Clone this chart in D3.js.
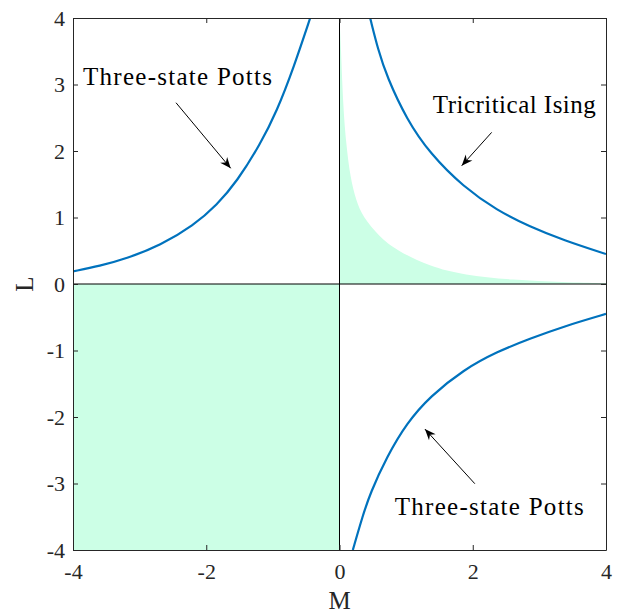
<!DOCTYPE html>
<html>
<head>
<meta charset="utf-8">
<script src="https://cdn.jsdelivr.net/npm/d3@7"></script>
<style>
    body { margin: 0; background: #fff; }
    text { font-family: "Liberation Serif", "DejaVu Serif", serif; fill: #262626; }
</style>
</head>
<body>
<div id="container"></div>
<script>

// Data.

const xTicks = [-4, -2, 0, 2, 4];
const yTicks = [-4, -3, -2, -1, 0, 1, 2, 3, 4];

// upper-left branch (Three-state Potts)
const pottsUpperM = [-4.0, -3.6, -3.19, -2.69, -2.19, -1.84, -1.54, -1.19, -0.94, -0.69, -0.44];
const pottsUpperL = [0.19, 0.27, 0.385, 0.58, 0.88, 1.19, 1.54, 2.1, 2.6, 3.25, 4.0];

// upper-right branch (Tricritical Ising)
const isingM = [0.46, 0.58, 0.71, 1.01, 1.36, 1.86, 2.36, 2.86, 3.36, 4.0];
const isingL = [4.0, 3.52, 3.12, 2.47, 1.96, 1.46, 1.11, 0.86, 0.66, 0.45];

// lower-right branch (Three-state Potts)
const pottsLowerM = [0.2, 0.35, 0.46, 0.71, 1.01, 1.36, 1.86, 2.36, 2.86, 3.36, 4.0];
const pottsLowerL = [-4.0, -3.48, -3.15, -2.6, -2.09, -1.69, -1.29, -1.02, -0.82, -0.64, -0.45];

// shaded region above L = 0 for M > 0
const shadeM = [0.0, 0.02, 0.057, 0.1, 0.16, 0.25, 0.35, 0.6, 0.85, 1.36, 1.86, 2.61, 3.36, 4.0];
const shadeL = [4.0, 3.6, 2.62, 2.12, 1.61, 1.25, 1.01, 0.71, 0.51, 0.26, 0.135, 0.06, 0.025, 0.01];

// shaded quadrant M < 0, L < 0
const quadM = [-4, 0];
const quadL = [-4, 0];

const labels = ['Three-state Potts', 'Tricritical Ising', 'Three-state Potts'];
const labelM = [-3.85, 1.40, 0.83];
const labelL = [2.99, 2.57, -3.47];
const arrowFrom = [[-2.454, 2.726], [2.284, 2.28], [2.031, -3.003]];
const arrowTo = [[-1.633, 1.74], [1.834, 1.779], [1.282, -2.182]];


// Canvas.

const width = 620;
const height = 614;
const padL = 73, padR = 606, padT = 18, padB = 550;

const svg = d3.select('#container')
    .append('svg')
    .attr('width', width)
    .attr('height', height);

const x = d3.scaleLinear().domain([-4, 4]).range([padL, padR]);
const y = d3.scaleLinear().domain([-4, 4]).range([padB, padT]);

const defs = svg.append('defs');

defs.append('clipPath')
    .attr('id', 'plot-clip')
    .append('rect')
    .attr('x', padL)
    .attr('y', padT)
    .attr('width', padR - padL)
    .attr('height', padB - padT);

defs.append('marker')
    .attr('id', 'head')
    .attr('viewBox', '-12 -6 14 12')
    .attr('refX', 0)
    .attr('refY', 0)
    .attr('markerWidth', 14)
    .attr('markerHeight', 12)
    .attr('markerUnits', 'userSpaceOnUse')
    .attr('orient', 'auto')
    .append('path')
    .attr('d', 'M0,0 L-11,-4.5 L-7.5,0 L-11,4.5 Z')
    .attr('fill', '#000');

const plot = svg.append('g').attr('clip-path', 'url(#plot-clip)');

// Shading.

plot.append('rect')
    .attr('x', x(quadM[0]))
    .attr('y', y(quadL[1]))
    .attr('width', x(quadM[1]) - x(quadM[0]))
    .attr('height', y(quadL[0]) - y(quadL[1]))
    .attr('fill', '#ccffe6');

const shade = shadeM.map((m, i) => [m, shadeL[i]]);
plot.append('path')
    .datum(shade)
    .attr('d', d3.area()
        .x(d => x(d[0]))
        .y0(y(0))
        .y1(d => y(d[1]))
        .curve(d3.curveBasis))
    .attr('fill', '#ccffe6');

// Zero lines.

plot.append('line')
    .attr('x1', x(-4)).attr('x2', x(4))
    .attr('y1', y(0)).attr('y2', y(0))
    .attr('stroke', '#000')
    .attr('stroke-width', 1);

plot.append('line')
    .attr('x1', x(0)).attr('x2', x(0))
    .attr('y1', y(-4)).attr('y2', y(4))
    .attr('stroke', '#000')
    .attr('stroke-width', 1);

// Curves.

const line = d3.line()
    .x(d => x(d[0]))
    .y(d => y(d[1]))
    .curve(d3.curveBasis);

[[pottsUpperM, pottsUpperL], [isingM, isingL], [pottsLowerM, pottsLowerL]].forEach(pair => {
    plot.append('path')
        .datum(pair[0].map((m, i) => [m, pair[1][i]]))
        .attr('d', line)
        .attr('fill', 'none')
        .attr('stroke', '#0072bd')
        .attr('stroke-width', 2.2);
});

// Axes.

const fmt = d => String(d);

svg.append('g')
    .attr('transform', `translate(0,${padB})`)
    .call(d3.axisBottom(x).tickValues(xTicks).tickFormat(fmt).tickSizeInner(-5).tickSizeOuter(0).tickPadding(13));

svg.append('g')
    .attr('transform', `translate(0,${padT})`)
    .call(d3.axisTop(x).tickValues(xTicks).tickFormat('').tickSizeInner(-5).tickSizeOuter(0));

svg.append('g')
    .attr('transform', `translate(${padL},0)`)
    .call(d3.axisLeft(y).tickValues(yTicks).tickFormat(fmt).tickSizeInner(-5).tickSizeOuter(0).tickPadding(8));

svg.append('g')
    .attr('transform', `translate(${padR},0)`)
    .call(d3.axisRight(y).tickValues(yTicks).tickFormat('').tickSizeInner(-5).tickSizeOuter(0));

svg.selectAll('.domain').attr('stroke', '#262626').attr('stroke-width', 1);
svg.selectAll('.tick line').attr('stroke', '#262626');
svg.selectAll('.tick text')
    .attr('fill', '#262626')
    .style('font-family', '"Liberation Serif", serif')
    .style('font-size', '22px');

svg.append('text')
    .attr('x', (padL + padR) / 2)
    .attr('y', 609)
    .attr('text-anchor', 'middle')
    .style('font-size', '25px')
    .text('M');

svg.append('text')
    .attr('transform', `translate(33,${(padT + padB) / 2}) rotate(-90)`)
    .attr('text-anchor', 'middle')
    .style('font-size', '25px')
    .text('L');

// Annotations.

const labelWidth = [189, 163, 189];

labels.forEach((t, i) => {
    svg.append('text')
        .attr('x', x(labelM[i]))
        .attr('y', y(labelL[i]))
        .attr('textLength', labelWidth[i])
        .attr('lengthAdjust', 'spacing')
        .style('font-size', '25px')
        .style('fill', '#000')
        .text(t);

    svg.append('line')
        .attr('x1', x(arrowFrom[i][0]))
        .attr('y1', y(arrowFrom[i][1]))
        .attr('x2', x(arrowTo[i][0]))
        .attr('y2', y(arrowTo[i][1]))
        .attr('stroke', '#000')
        .attr('stroke-width', 1)
        .attr('marker-end', 'url(#head)');
});

</script>
</body>
</html>
